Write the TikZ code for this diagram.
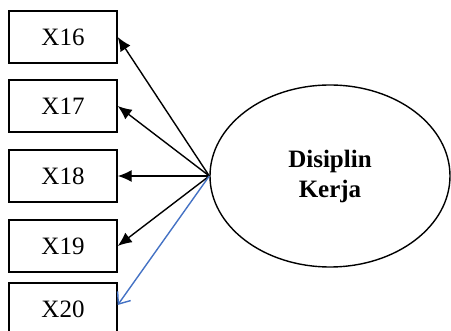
\documentclass[tikz,border=0pt]{standalone}
\usepackage{fontspec}
\setmainfont{Liberation Serif}
\usetikzlibrary{shapes.geometric,arrows.meta}
\definecolor{lineblue}{RGB}{68,114,196}

\begin{document}
\begin{tikzpicture}[x=0.5pt,y=-0.5pt,
    font=\fontsize{12.5}{15}\selectfont,
    indbox/.style={draw,line width=0.7pt,minimum width=54pt,minimum height=26pt,inner sep=0pt},
    load/.style={-{Latex[length=7pt,width=6pt]},line width=0.7pt},
    loadblue/.style={-{Straight Barb[length=5pt,width=8pt]},line width=0.7pt,draw=lineblue}]
  \useasboundingbox (0,0) rectangle (451,331);
  \clip (0,0) rectangle (451,331);
  \node[indbox] (x16) at (63,37) {X16};
  \node[indbox] (x17) at (63,106) {X17};
  \node[indbox] (x18) at (63,176) {X18};
  \node[indbox] (x19) at (63,246) {X19};
  \node[indbox] (x20) at (63,309) {X20};
  \node[ellipse,draw,line width=0.7pt,minimum width=120pt,minimum height=91pt,inner sep=0pt,
        align=center,font=\fontsize{12.5}{15}\selectfont\bfseries] (dk) at (330,176) {Disiplin\\Kerja};
  \draw[load] (dk.west) -- (x16.east);
  \draw[load] (dk.west) -- (x17.east);
  \draw[load] (dk.west) -- (x18.east);
  \draw[load] (dk.west) -- (x19.east);
  \draw[loadblue] (dk.west) -- ([yshift=2pt]x20.east);
\end{tikzpicture}
\end{document}
